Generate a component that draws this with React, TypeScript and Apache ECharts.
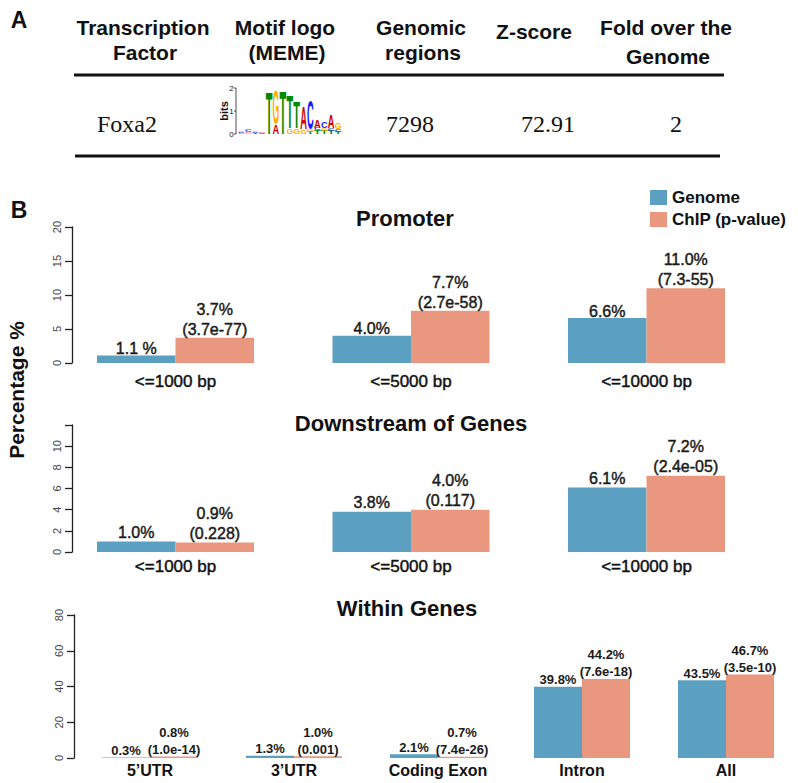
import React, { useEffect, useRef } from 'react';
import * as echarts from 'echarts';

// ---------- data ----------
const distanceCats = ['<=1000 bp', '<=5000 bp', '<=10000 bp'];
const promoterGenome = [1.1, 4.0, 6.6];
const promoterChip = [3.7, 7.7, 11.0];
const promoterGenomeLabels = ['1.1 %', '4.0%', '6.6%'];
const promoterP = ['3.7e-77', '2.7e-58', '7.3-55'];

const downstreamGenome = [1.0, 3.8, 6.1];
const downstreamChip = [0.9, 4.0, 7.2];
const downstreamP = ['0.228', '0.117', '2.4e-05'];

const withinCats = ['5\u2019UTR', '3\u2019UTR', 'Coding Exon', 'Intron', 'All'];
const withinGenome = [0.3, 1.3, 2.1, 39.8, 43.5];
const withinChip = [0.8, 1.0, 0.7, 44.2, 46.7];
const withinP = ['1.0e-14', '0.001', '7.4e-26', '7.6e-18', '3.5e-10'];

const panelTitles = ['Promoter', 'Downstream of Genes', 'Within Genes'];
const seriesNames = ['Genome', 'ChIP (p-value)'];

const tableHeaders = [
  ['Transcription', 'Factor'],
  ['Motif logo', '(MEME)'],
  ['Genomic', 'regions'],
  ['Z-score'],
  ['Fold over the', 'Genome'],
];
const tableRow = ['Foxa2', '', '7298', '72.91', '2'];

// motif logo: columns of [letter, bits] stacked bottom -> top
const logoColumns: [string, number][][] = [
  [['A', 0.03], ['C', 0.04], ['G', 0.03]],
  [['G', 0.04], ['A', 0.05], ['C', 0.1]],
  [['T', 0.03], ['C', 0.05], ['G', 0.04]],
  [['C', 0.04], ['A', 0.05]],
  [['T', 1.85]],
  [['A', 0.4], ['G', 1.5]],
  [['T', 1.9]],
  [['G', 0.22], ['T', 1.43]],
  [['G', 0.25], ['T', 1.15]],
  [['G', 0.18], ['A', 0.95]],
  [['T', 0.1], ['G', 0.12], ['C', 1.28]],
  [['T', 0.15], ['C', 0.12], ['A', 0.35]],
  [['T', 0.15], ['G', 0.1], ['C', 0.3]],
  [['T', 0.15], ['C', 0.1], ['A', 0.55]],
  [['T', 0.1], ['C', 0.1], ['G', 0.3]],
];

const BLUE = '#5ba0c0';
const ORANGE = '#e9987f';
const SANS = '"Liberation Sans", Arial, Helvetica, sans-serif';
const SERIF = '"Liberation Serif", "Times New Roman", serif';

const letterColor: Record<string, string> = { A: '#d40000', C: '#1a1aff', G: '#ffb000', T: '#008a00' };
const letterAdv: Record<string, number> = { A: 0.722, C: 0.722, G: 0.778, T: 0.611 };

function buildGraphic() {
  const els: any[] = [];
  const txt = (text: string, x: number, y: number, font: string, extra: any = {}) => ({
    type: 'text',
    x,
    y,
    silent: true,
    ...extra,
    style: {
      text,
      font,
      fill: '#111',
      textAlign: 'center',
      textVerticalAlign: 'middle',
      align: 'center',
      verticalAlign: 'middle',
      ...(extra.style || {}),
    },
  });
  // panel letters
  els.push(txt('A', 19, 20, `bold 23px ${SANS}`));
  els.push(txt('B', 19, 210, `bold 23px ${SANS}`));
  // table headers
  const hx = [143, 285, 421, 534, 666];
  tableHeaders.forEach((lines, i) => {
    if (lines.length === 1) {
      els.push(txt(lines[0], hx[i], 31, `bold 21px ${SANS}`));
    } else {
      els.push(txt(lines[0], hx[i], 27, `bold 21px ${SANS}`));
      els.push(txt(lines[1], hx[i] + 2, i === 4 ? 56 : 52, `bold 21px ${SANS}`));
    }
  });
  // rules
  els.push({ type: 'line', silent: true, shape: { x1: 74, y1: 75, x2: 724, y2: 75 }, style: { stroke: '#111', lineWidth: 3 } });
  els.push({ type: 'line', silent: true, shape: { x1: 75, y1: 156, x2: 720, y2: 156 }, style: { stroke: '#111', lineWidth: 3 } });
  // row values
  const rx = [127, 0, 410, 548, 676];
  tableRow.forEach((t, i) => {
    if (t) els.push(txt(t, rx[i], 124, `24px ${SERIF}`));
  });
  // motif logo
  const base = 134;
  const perBit = 23;
  const axX = 236;
  els.push({ type: 'line', silent: true, shape: { x1: axX, y1: base - 2 * perBit, x2: axX, y2: base }, style: { stroke: '#222', lineWidth: 0.8 } });
  [0, 1, 2].forEach((b) => {
    els.push({ type: 'line', silent: true, shape: { x1: axX - 2, y1: base - b * perBit, x2: axX, y2: base - b * perBit }, style: { stroke: '#222', lineWidth: 0.8 } });
    els.push(txt(String(b), axX - 4.5, base - b * perBit, `8px ${SANS}`));
  });
  els.push(txt('bits', 224, 111, `bold 11px ${SANS}`, { rotation: Math.PI / 2 }));
  const colW = 6.9;
  const x0 = 238;
  const F = 20;
  logoColumns.forEach((col, ci) => {
    let acc = 0;
    col.forEach(([L, bits]) => {
      const h = bits * perBit;
      const yBottom = base - acc * perBit;
      const cy = yBottom - h / 2;
      const cx = x0 + ci * colW + colW / 2;
      els.push({
        type: 'text',
        silent: true,
        x: cx,
        y: cy,
        scaleX: (colW - 0.2) / (letterAdv[L] * F),
        scaleY: Math.max(h, 0.3) / (0.716 * F),
        style: {
          text: L,
          font: `bold ${F}px ${SANS}`,
          fill: letterColor[L],
          textAlign: 'center',
          textVerticalAlign: 'middle',
          align: 'center',
          verticalAlign: 'middle',
        },
      });
      acc += bits;
    });
  });
  // panel titles
  els.push(txt(panelTitles[0], 405, 218, `bold 22px ${SANS}`));
  els.push(txt(panelTitles[1], 411, 423, `bold 22px ${SANS}`));
  els.push(txt(panelTitles[2], 407, 608, `bold 22px ${SANS}`));
  // y axis title
  els.push(txt('Percentage %', 16, 390, `bold 21px ${SANS}`, { rotation: Math.PI / 2 }));
  return els;
}

function yAxisCfg(max: number, interval: number, offset: number, gridIndex: number, hideTop = false) {
  return {
    type: 'value',
    gridIndex,
    min: 0,
    max,
    interval,
    offset,
    axisLine: { show: true, lineStyle: { color: '#222', width: 1.3 } },
    axisTick: { show: true, length: 7, lineStyle: { color: '#222', width: 1.3 } },
    splitLine: { show: false },
    axisLabel: {
      rotate: 90,
      fontSize: 11,
      fontFamily: SANS,
      color: '#444',
      margin: 10,
      formatter: (v: number) => (hideTop && v === max ? '' : String(v)),
    },
  };
}

function xAxisCfg(data: string[], gridIndex: number, margin: number, bold: boolean, fontSize: number) {
  return {
    type: 'category',
    gridIndex,
    data,
    axisLine: { show: false },
    axisTick: { show: false },
    splitLine: { show: false },
    axisLabel: {
      fontSize,
      fontFamily: SANS,
      fontWeight: bold ? 'bold' : 'normal',
      color: '#111',
      textBorderColor: bold ? 'transparent' : '#111',
      textBorderWidth: bold ? 0 : 0.45,
      margin,
      interval: 0,
    },
  };
}

function barSeries(
  name: string,
  data: number[],
  idx: number,
  color: string,
  labels: string[],
  font: { size: number; bold: boolean; lh: number; dist: number }
) {
  return {
    type: 'bar',
    name,
    data,
    xAxisIndex: idx,
    yAxisIndex: idx,
    barGap: '0%',
    barCategoryGap: '33.333%',
    itemStyle: { color },
    label: {
      show: true,
      position: 'top',
      distance: font.dist,
      fontSize: font.size,
      fontWeight: font.bold ? 'bold' : 'normal',
      fontFamily: SANS,
      color: '#1a1a1a',
      textBorderColor: font.bold ? 'transparent' : '#1a1a1a',
      textBorderWidth: font.bold ? 0 : 0.45,
      lineHeight: font.lh,
      align: 'center',
      formatter: (p: any) => labels[p.dataIndex],
    },
  };
}

export default function App() {
  const ref = useRef<HTMLDivElement>(null);
  useEffect(() => {
    if (!ref.current) return;
    const chart = echarts.init(ref.current, undefined, { renderer: 'svg' });

    const chipLabel = (vals: number[], ps: string[]) => vals.map((v, i) => `${v.toFixed(1)}%\n(${ps[i]})`);
    const pctLabel = (vals: number[]) => vals.map((v) => `${v.toFixed(1)}%`);

    const option: any = {
      animation: false,
      backgroundColor: '#ffffff',
      textStyle: { fontFamily: SANS },
      legend: {
        data: seriesNames,
        orient: 'vertical',
        left: 650,
        top: 189,
        padding: 0,
        itemWidth: 17,
        itemHeight: 15,
        itemGap: 5,
        icon: 'rect',
        selectedMode: false,
        textStyle: { fontSize: 17, fontWeight: 'bold', color: '#111', fontFamily: SANS },
      },
      grid: [
        { left: 57.75, right: 33.75, top: 227, bottom: 420 },
        { left: 57.75, right: 33.75, top: 425, bottom: 231 },
        { left: 78, right: -16, top: 615, bottom: 25 },
      ],
      xAxis: [
        xAxisCfg(distanceCats, 0, 10, false, 17),
        xAxisCfg(distanceCats, 1, 6, false, 17),
        xAxisCfg(withinCats, 2, 4, true, 16),
      ],
      yAxis: [
        yAxisCfg(20, 5, -14.25, 0),
        yAxisCfg(12, 2, -14.25, 1, true),
        yAxisCfg(80, 20, 4, 2),
      ],
      series: [
        barSeries(seriesNames[0], promoterGenome, 0, BLUE, promoterGenomeLabels, { size: 16, bold: false, lh: 20, dist: -3 }),
        barSeries(seriesNames[1], promoterChip, 0, ORANGE, chipLabel(promoterChip, promoterP), { size: 16, bold: false, lh: 20, dist: -1.5 }),
        barSeries(seriesNames[0], downstreamGenome, 1, BLUE, pctLabel(downstreamGenome), { size: 16, bold: false, lh: 20, dist: -1 }),
        barSeries(seriesNames[1], downstreamChip, 1, ORANGE, chipLabel(downstreamChip, downstreamP), { size: 16, bold: false, lh: 20, dist: -1 }),
        barSeries(seriesNames[0], withinGenome, 2, BLUE, pctLabel(withinGenome), { size: 13, bold: true, lh: 17, dist: -1.5 }),
        barSeries(seriesNames[1], withinChip, 2, ORANGE, chipLabel(withinChip, withinP), { size: 13, bold: true, lh: 17, dist: -1.5 }),
      ],
      graphic: buildGraphic(),
    };
    chart.setOption(option);
    return () => chart.dispose();
  }, []);

  return (
    <div
      ref={ref}
      style={{ position: 'fixed', left: 0, top: 0, width: 798, height: 783, background: '#fff' }}
    />
  );
}
